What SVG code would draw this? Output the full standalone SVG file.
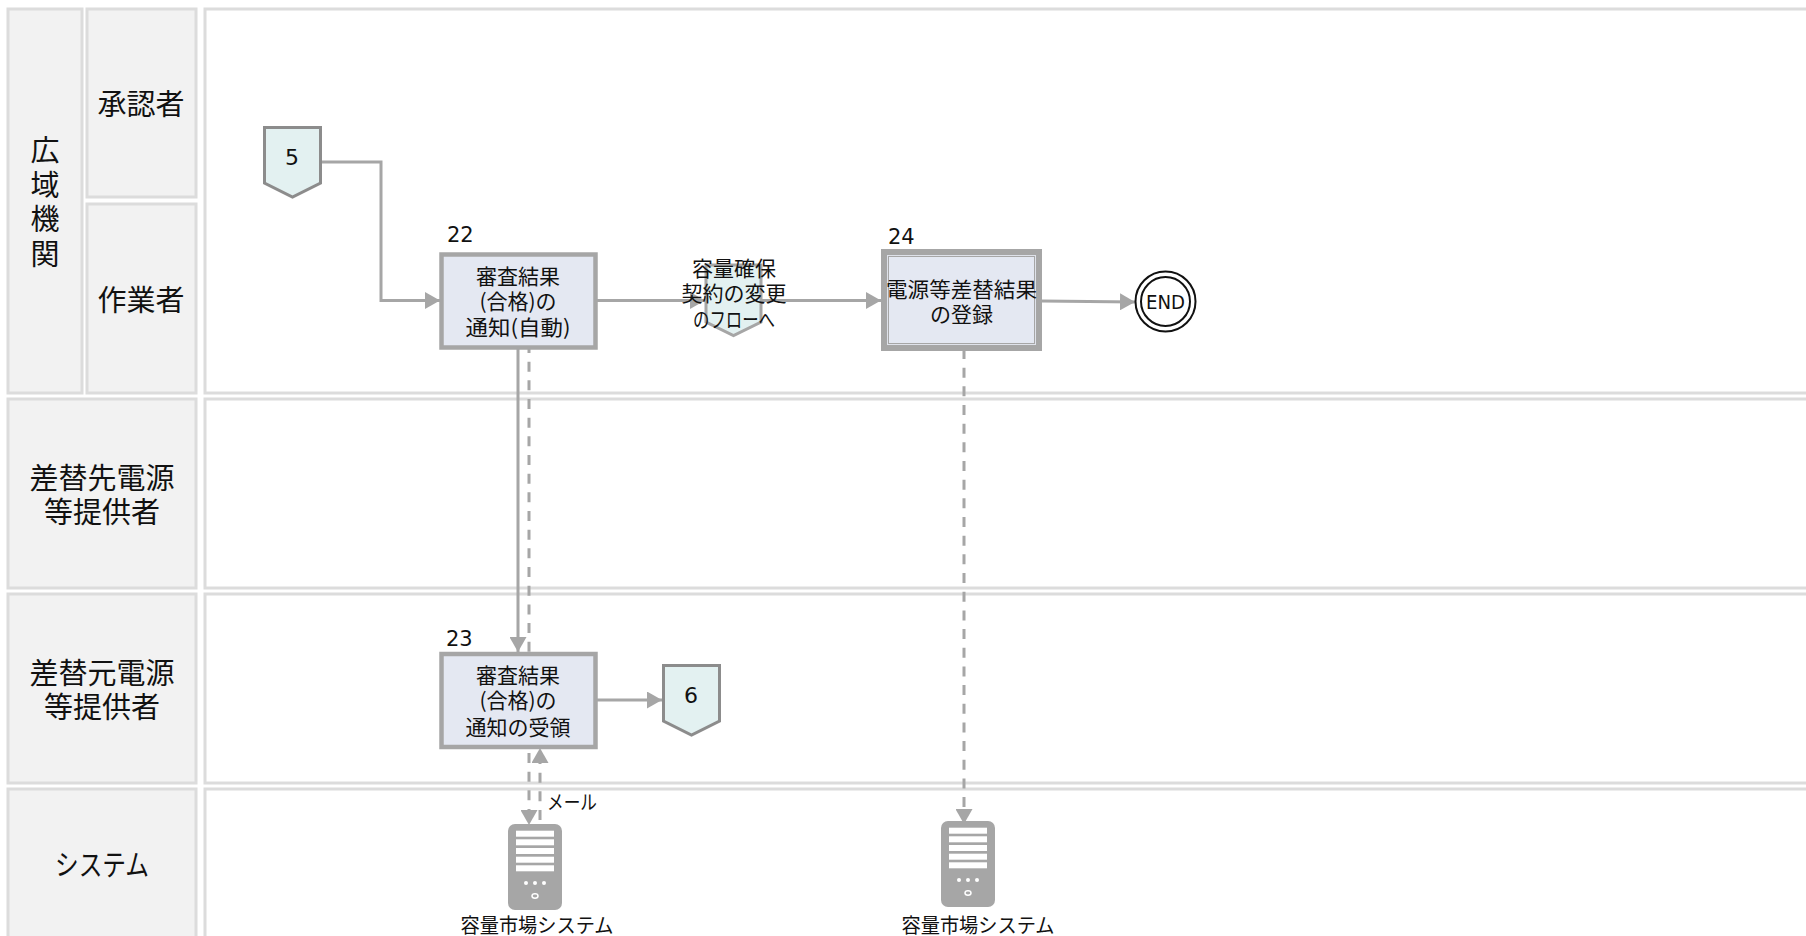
<svg xmlns="http://www.w3.org/2000/svg" width="1806" height="936" viewBox="0 0 1806 936">
<style>
text{font-family:"Noto Sans CJK JP","DejaVu Sans",sans-serif;fill:#111;text-anchor:middle}
.n{font-family:"DejaVu Sans",sans-serif;font-size:21px;text-anchor:start}
.d0{font-family:"DejaVu Sans",sans-serif;font-size:22px}
.l{font-size:29px}.b{font-size:21px}.s{font-size:20px}
.lane{fill:#f2f2f2;stroke:#dcdcdc;stroke-width:3}
.main{fill:#fff;stroke:#dcdcdc;stroke-width:3}
.off{fill:#e3f1f1;stroke:#8c8c8c;stroke-width:3}
.box{fill:#e4e8f2;stroke:#a6a6a6;stroke-width:4.500}
.c{fill:none;stroke:#a6a6a6;stroke-width:3}
.d{stroke-dasharray:10 8.670}
.srv{fill:#a6a6a6}
</style>
<defs>
<marker id="a" markerUnits="userSpaceOnUse" markerWidth="16" markerHeight="17" refX="15" refY="8.500" orient="auto"><path d="M0 0L15 8.500L0 17z" fill="#a6a6a6"/></marker>
<g id="server"><rect class="srv" width="54" height="86" rx="7"/><g fill="#fff"><rect x="8" y="6.700" width="38" height="6"/><rect x="8" y="15.300" width="38" height="6"/><rect x="8" y="24" width="38" height="6"/><rect x="8" y="32.700" width="38" height="6"/><rect x="8" y="41.300" width="38" height="6"/><circle cx="18" cy="59" r="2"/><circle cx="27" cy="59" r="2"/><circle cx="36" cy="59" r="2"/></g><ellipse cx="27" cy="72" rx="3" ry="2.200" fill="none" stroke="#fff" stroke-width="1.500"/></g>
</defs>
<g id="lanes">
<rect class="lane" x="8" y="9" width="74" height="384"/><text class="l" x="45" y="161">広</text><text class="l" x="45" y="196">域</text><text class="l" x="45" y="230">機</text><text class="l" x="45" y="265">関</text>
<rect class="lane" x="87" y="9" width="109" height="188"/><text class="l" x="141" y="115">承認者</text>
<rect class="lane" x="87" y="204" width="109" height="189"/><text class="l" x="141" y="311">作業者</text>
<rect class="lane" x="8" y="399" width="188" height="189"/><text class="l" x="102" y="489">差替先電源</text><text class="l" x="102" y="523">等提供者</text>
<rect class="lane" x="8" y="594" width="188" height="189"/><text class="l" x="102" y="684">差替元電源</text><text class="l" x="102" y="718">等提供者</text>
<rect class="lane" x="8" y="789" width="188" height="160"/><text class="l" x="102" y="876" textLength="94" lengthAdjust="spacingAndGlyphs">システム</text>
<rect class="main" x="205" y="9" width="1620" height="384"/>
<rect class="main" x="205" y="399" width="1620" height="189"/>
<rect class="main" x="205" y="594" width="1620" height="189"/>
<rect class="main" x="205" y="789" width="1620" height="160"/>
</g>
<g id="connectors">
<path class="c" d="M321 162H381V300.500H440" marker-end="url(#a)"/>
<path class="c" d="M597 300.500H705" marker-end="url(#a)"/>
<path class="c" d="M762 300.500H881" marker-end="url(#a)"/>
<path class="c" d="M1042 301L1135 302" marker-end="url(#a)"/>
<path class="c" d="M518 349V652" marker-end="url(#a)"/>
<path class="c d" d="M529 343V652"/>
<path class="c" d="M597 700H662" marker-end="url(#a)"/>
<path class="c d" d="M529 753V825" marker-end="url(#a)"/>
<path class="c d" d="M540 820V748" marker-end="url(#a)"/>
<path class="c d" d="M964 349V824" marker-end="url(#a)"/>
</g>
<g id="n5"><path class="off" d="M264.500 127.500H320.500V183L292.500 197L264.500 183z"/><text class="d0" x="292" y="165">5</text></g>
<g id="n22"><text class="n" x="447" y="242">22</text><rect class="box" x="441.500" y="254.500" width="154" height="93"/><text class="b" x="518" y="284">審査結果</text><text class="b" x="518" y="309">(合格)の</text><text class="b" x="518" y="335" textLength="105" lengthAdjust="spacingAndGlyphs">通知(自動)</text></g>
<g id="nlink"><path class="off" style="stroke:#a6a6a6" d="M706 265H761V322L733.500 335.500L706 322z"/><text class="b" x="734" y="276">容量確保</text><text class="b" x="734" y="301">契約の変更</text><text class="b" x="734" y="327" textLength="82" lengthAdjust="spacingAndGlyphs">のフローへ</text></g>
<g id="n24"><text class="n" x="888" y="244">24</text><rect x="884" y="252" width="155" height="96" fill="#e4e8f2" stroke="#a6a6a6" stroke-width="6"/><rect x="888" y="256" width="147" height="88" fill="none" stroke="#dfe2ea" stroke-width="2"/><rect x="888.500" y="256.500" width="146" height="87" fill="none" stroke="#a6a6a6" stroke-width="1"/><text class="b" x="961.500" y="297" textLength="151" lengthAdjust="spacingAndGlyphs">電源等差替結果</text><text class="b" x="961.500" y="322">の登録</text></g>
<g id="nend"><circle cx="1165.500" cy="301.500" r="30" fill="#fff" stroke="#111" stroke-width="2"/><circle cx="1165.500" cy="301.500" r="24.500" fill="#fff" stroke="#111" stroke-width="2"/><text x="1165.500" y="309" textLength="39" lengthAdjust="spacingAndGlyphs" style="font-family:'DejaVu Sans',sans-serif;font-size:19px">END</text></g>
<g id="n23"><text class="n" x="446" y="646">23</text><rect class="box" x="441.500" y="654" width="154" height="93"/><text class="b" x="518" y="683">審査結果</text><text class="b" x="518" y="708">(合格)の</text><text class="b" x="518" y="735">通知の受領</text></g>
<g id="n6"><path class="off" d="M663.500 665.500H719.500V721L691.500 735L663.500 721z"/><text class="d0" x="691" y="703">6</text></g>
<g id="s1"><use href="#server" x="508" y="824"/><text class="s" x="537" y="932.500" textLength="153" lengthAdjust="spacingAndGlyphs">容量市場システム</text></g>
<g id="s2"><use href="#server" x="941" y="821"/><text class="s" x="978" y="932.500" textLength="153" lengthAdjust="spacingAndGlyphs">容量市場システム</text></g>
<text class="s" x="572" y="810" textLength="50" lengthAdjust="spacingAndGlyphs">メール</text>
</svg>
